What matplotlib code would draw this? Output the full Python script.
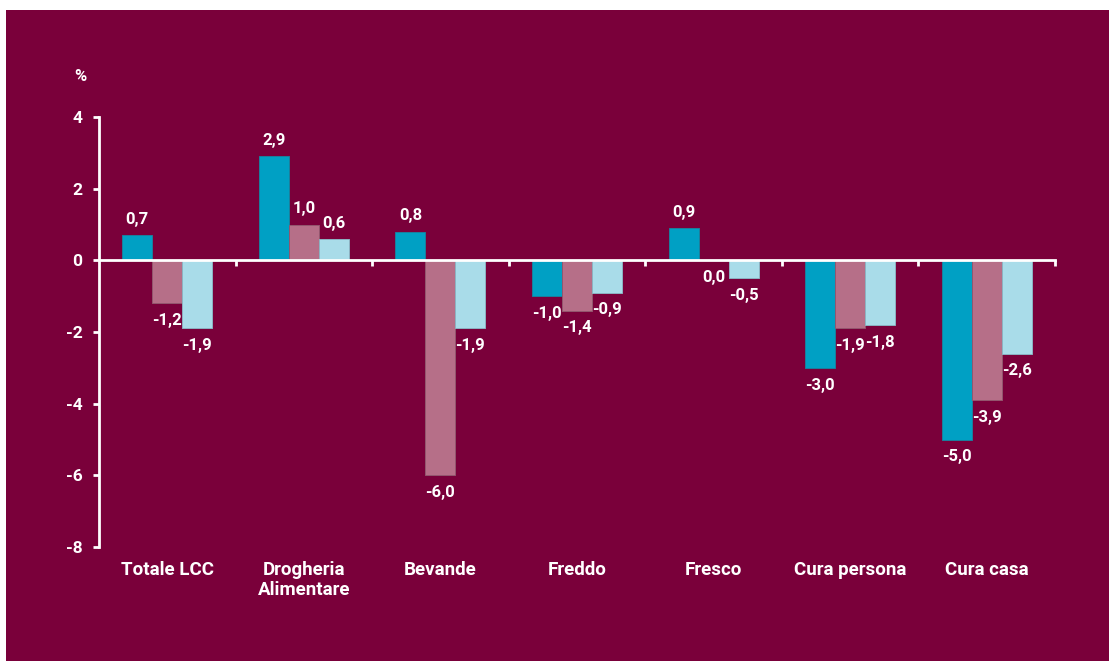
import numpy as np
import matplotlib
matplotlib.use("Agg")
import matplotlib.pyplot as plt

# variazioni % per reparto, tre serie
categorie = ["Totale LCC", "Drogheria\nAlimentare", "Bevande", "Freddo",
             "Fresco", "Cura persona", "Cura casa"]
serie_a = [0.7, 2.9, 0.8, -1.0, 0.9, -3.0, -5.0]
serie_b = [-1.2, 1.0, -6.0, -1.4, 0.0, -1.9, -3.9]
serie_c = [-1.9, 0.6, -1.9, -0.9, -0.5, -1.8, -2.6]
y_ticks = [4, 2, 0, -2, -4, -6, -8]

bg = "#7A003A"
colori = ["#00A0C4", "#B66F88", "#A9DCE9"]
bordi = ["#1B7F9C", "#93566E", "#8CB3C2"]

plt.rcParams['font.family'] = ['Roboto', 'DejaVu Sans']
plt.rcParams['font.weight'] = 'bold'

fig = plt.figure(figsize=(11.09, 6.61), dpi=100)
fig.patch.set_facecolor("white")
# pannello colorato (bordo bianco solo in alto e a sinistra)
pannello = plt.Rectangle((6 / 1109, 0), 1, 1 - 10 / 661,
                         transform=fig.transFigure, facecolor=bg,
                         edgecolor="none", zorder=-5)
fig.add_artist(pannello)

ax = fig.add_axes([99 / 1109, 1 - 547 / 661, (1055 - 99) / 1109, 430 / 661])
ax.set_facecolor("none")

x = np.arange(len(categorie))
w = 0.22
for k, vals in enumerate([serie_a, serie_b, serie_c]):
    pos = x + (k - 1) * w
    ax.bar(pos, vals, width=w, color=colori[k], edgecolor=bordi[k],
           linewidth=0.7, zorder=2)
    for px, v in zip(pos, vals):
        testo = ("%.1f" % v).replace(".", ",")
        if v > 0:
            ax.annotate(testo, (px, v), xytext=(0, 6), textcoords="offset points",
                        ha="center", va="bottom", color="white", fontsize=12,
                        fontweight="bold")
        else:
            ax.annotate(testo, (px, v), xytext=(0, -7), textcoords="offset points",
                        ha="center", va="top", color="white", fontsize=12,
                        fontweight="bold")

ax.set_xlim(-0.5, len(categorie) - 0.5)
ax.set_ylim(-8, 4)

for s in ["top", "right"]:
    ax.spines[s].set_visible(False)
ax.spines["bottom"].set_position(("data", 0))
ax.spines["bottom"].set_color("white")
ax.spines["bottom"].set_linewidth(2)
ax.spines["left"].set_color("white")
ax.spines["left"].set_linewidth(2)
ax.spines["bottom"].set_zorder(3)

ax.set_xticks(x[:-1] + 0.5)
ax.set_xticks([len(categorie) - 0.5], minor=True)
ax.tick_params(axis="x", which="both", direction="out", length=4, width=2,
               color="white", labelbottom=False)
ax.set_yticks(y_ticks)
ax.set_yticklabels([str(t) for t in y_ticks])
ax.tick_params(axis="y", direction="out", length=4, width=2, color="white",
               labelcolor="white", labelsize=12.5, pad=8)
for lab in ax.get_yticklabels():
    lab.set_fontweight("bold")

for i, c in enumerate(categorie):
    ax.text(i, -8.4, c, ha="center", va="top", color="white", fontsize=13.5,
            fontweight="bold", linespacing=1.15)

ax.text(-0.02, 5.12, "%", transform=ax.get_yaxis_transform(), ha="center",
        va="center", color="white", fontsize=12, fontweight="bold")

fig.savefig("out.png", dpi=100, facecolor=fig.get_facecolor())
